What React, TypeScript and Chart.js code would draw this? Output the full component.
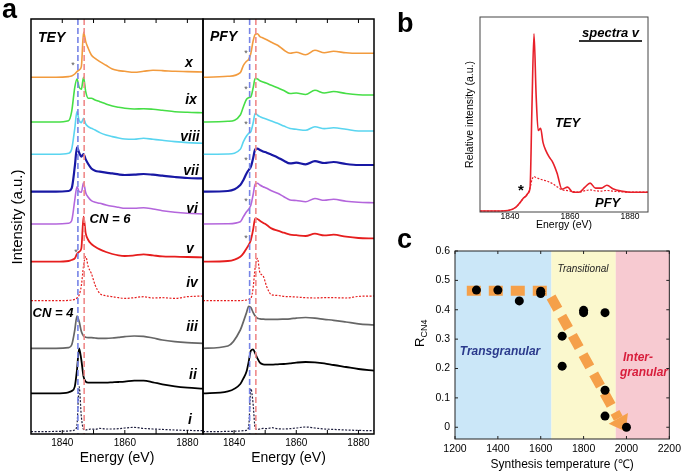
import React, { useEffect, useRef } from 'react';
import { Chart, registerables } from 'chart.js';

Chart.register(...registerables);
const FONT = '"Liberation Sans", Arial, Helvetica, sans-serif';
Chart.defaults.font.family = FONT;
Chart.defaults.color = '#000';

// ---------------- Panel a: S K-edge spectra ----------------
const energyGrid = [1830, 1838, 1842, 1843, 1844, 1844.7, 1845.4, 1846.1, 1846.8, 1847.5, 1848.3, 1849.3, 1850.5, 1852, 1854, 1856, 1858, 1860, 1863, 1866, 1869, 1872, 1876, 1880, 1885];
const spectrumLabels = ['x', 'ix', 'viii', 'vii', 'vi', 'v', 'iv', 'iii', 'ii', 'i'];
const spectrumOffsets = [35.67, 31.2, 27.97, 24.23, 21.0, 17.23, 13.33, 8.57, 4.07, 0.23];

const teyX = [0, 0, 0.07, 0.13, 0.33, 0.57, 0.73, 1.07, 4.5, 3.57, 2.9, 2.23, 1.9, 1.57, 1.2, 0.83, 0.67, 0.6, 0.5, 0.6, 0.7, 0.67, 0.6, 0.57, 0.53];
const teyIX = [0, 0, 0.13, 1.03, 3.47, 4.3, 3.47, 3.27, 4.47, 3.03, 2.37, 2.37, 2.2, 2.03, 1.8, 1.6, 1.47, 1.37, 1.3, 1.33, 1.27, 1.17, 1.03, 0.97, 0.93];
const teyVIII = [0, 0, 0.1, 0.5, 2.6, 4.27, 3.37, 3.17, 3.6, 3.03, 2.77, 2.6, 2.43, 2.17, 1.93, 1.77, 1.63, 1.53, 1.5, 1.6, 1.5, 1.4, 1.27, 1.17, 1.1];
const teyVII = [0, 0, 0.07, 0.33, 2.5, 4.43, 3.9, 3.5, 3.77, 3.23, 2.77, 2.33, 2.1, 2.0, 1.9, 1.83, 1.73, 1.67, 1.7, 1.77, 1.7, 1.6, 1.47, 1.37, 1.33];
const teyVI = [0, 0, 0.07, 0.33, 2.4, 3.73, 3.23, 3.17, 4.13, 3.13, 2.67, 2.33, 2.17, 2.07, 1.9, 1.77, 1.67, 1.57, 1.57, 1.63, 1.5, 1.33, 1.17, 1.07, 1.0];
const teyV = [0, 0, 0.07, 0.17, 0.33, 0.77, 1.0, 1.33, 4.5, 2.83, 2.17, 1.77, 1.5, 1.23, 0.97, 0.77, 0.63, 0.57, 0.63, 0.73, 0.63, 0.53, 0.5, 0.47, 0.43];
const teyIV = [0, 0, 0.03, 0.07, 0.13, 0.27, 0.57, 1.5, 3.5, 4.4, 3.4, 2.73, 1.57, 0.73, 0.5, 0.4, 0.3, 0.23, 0.3, 0.4, 0.27, 0.3, 0.23, 0.4, 0.47];
const teyIII = [0, 0, 0.07, 0.33, 1.83, 3.23, 2.67, 1.67, 1.23, 1.1, 1.07, 1.07, 1.03, 1.0, 1.0, 1.03, 1.1, 1.17, 1.23, 1.2, 1.03, 0.83, 0.67, 0.57, 0.5];
const teyII = [0, 0, 0.1, 0.23, 0.67, 2.33, 4.5, 3.33, 1.67, 1.17, 1.07, 1.07, 1.07, 1.07, 1.07, 1.1, 1.13, 1.17, 1.27, 1.27, 1.1, 0.9, 0.7, 0.57, 0.47];
const teyI = [0, 0.03, 0.07, 0.1, 0.17, 0.67, 4.5, 1.5, 0.23, 0.17, 0.23, 0.27, 0.23, 0.33, 0.27, 0.27, 0.3, 0.37, 0.43, 0.33, 0.27, 0.23, 0.17, 0.13, 0.1];

const pfyX = [0, 0.1, 0.47, 1.2, 1.6, 1.8, 2.4, 3.6, 4.3, 4.35, 4.07, 3.93, 3.75, 3.5, 3.2, 2.73, 2.4, 2.5, 2.25, 2.7, 2.45, 2.6, 2.45, 2.4, 2.4];
const pfyIX = [0, 0.07, 0.7, 1.53, 2.27, 2.43, 2.53, 3.37, 4.37, 4.3, 4.13, 4.0, 3.87, 3.67, 3.43, 3.15, 2.85, 2.9, 2.75, 3.17, 2.9, 3.05, 2.85, 2.73, 2.7];
const pfyVIII = [0, 0.03, 0.5, 1.27, 1.83, 2.1, 2.27, 3.1, 4.1, 3.93, 3.77, 3.63, 3.5, 3.33, 3.1, 2.83, 2.57, 2.5, 2.4, 2.75, 2.57, 2.65, 2.5, 2.33, 2.33];
const pfyVII = [0, 0.07, 0.67, 1.17, 1.83, 2.17, 2.5, 3.33, 4.23, 4.3, 4.17, 4.03, 3.9, 3.7, 3.43, 3.1, 2.83, 2.9, 2.73, 3.05, 2.87, 2.97, 2.77, 2.67, 2.67];
const pfyVI = [0, 0.03, 0.23, 0.73, 1.23, 1.47, 1.9, 2.9, 4.0, 4.07, 3.9, 3.73, 3.57, 3.33, 3.07, 2.73, 2.4, 2.35, 2.23, 2.55, 2.37, 2.47, 2.27, 2.17, 2.13];
const pfyV = [0, 0.07, 0.5, 0.83, 1.33, 1.67, 2.17, 3.17, 4.33, 4.27, 4.1, 3.9, 3.67, 3.33, 3.1, 2.9, 2.7, 2.65, 2.57, 2.8, 2.63, 2.7, 2.5, 2.37, 2.33];
const pfyIV = [0, 0, 0, 0.03, 0.07, 0.13, 0.23, 1.23, 3.4, 4.23, 2.8, 2.5, 1.4, 0.6, 0.53, 0.43, 0.4, 0.37, 0.3, 0.27, 0.3, 0.3, 0.27, 0.43, 0.47];
const pfyIII = [0, 0.23, 1.83, 2.67, 3.57, 4.2, 4.07, 3.6, 3.23, 3.0, 2.95, 2.92, 2.9, 2.9, 2.9, 2.92, 2.95, 3.02, 3.08, 3.02, 2.9, 2.8, 2.63, 2.45, 2.33];
const pfyII = [0, 0.2, 0.93, 1.5, 2.17, 3.17, 4.27, 4.4, 4.0, 3.5, 3.07, 2.9, 2.87, 2.87, 2.9, 2.93, 3.0, 3.07, 3.13, 3.1, 3.0, 2.83, 2.63, 2.43, 2.27];
const pfyI = [0, 0.03, 0.07, 0.1, 0.13, 0.5, 4.3, 2.83, 0.33, 0.23, 0.27, 0.33, 0.3, 0.4, 0.3, 0.27, 0.3, 0.37, 0.47, 0.37, 0.27, 0.23, 0.17, 0.13, 0.1];

const teySpectra = [teyX, teyIX, teyVIII, teyVII, teyVI, teyV, teyIV, teyIII, teyII, teyI];
const pfySpectra = [pfyX, pfyIX, pfyVIII, pfyVII, pfyVI, pfyV, pfyIV, pfyIII, pfyII, pfyI];

const spectrumColors = ['#f29b3e', '#46de46', '#5ad5f0', '#1818a4', '#b466dc', '#e61e1e', '#e61e1e', '#666666', '#000000', '#1c1c3c'];
const spectrumWidths = [1.6, 1.6, 1.6, 2.2, 1.6, 1.8, 1.2, 1.7, 1.8, 1.2];
const spectrumDotted = [false, false, false, false, false, false, true, false, false, true];

const energyTickLabels = [1840, 1860, 1880];
const energyMinorTicks = [1840, 1850, 1860, 1870, 1880];
const edgeLines = [1845, 1847]; // CN = 4 and CN = 6 edge positions
const edgeLineColors = ['#7784e6', '#f08a8a'];

// ---------------- Panel b: spectra v ----------------
const bEnergy = [1830, 1836, 1840, 1842, 1843.5, 1844.5, 1845.3, 1846, 1846.7, 1847.3, 1848, 1848.7, 1849.4, 1850.2, 1851, 1852, 1853, 1854.3, 1855.7, 1857.3, 1859.2, 1861, 1863, 1865, 1866.7, 1868.5, 1870.5, 1872.3, 1874.5, 1877, 1880, 1886];
const bTey = [0, 0, 0.005, 0.02, 0.046, 0.067, 0.077, 0.092, 0.123, 0.523, 0.913, 0.6, 0.415, 0.426, 0.354, 0.31, 0.28, 0.25, 0.195, 0.113, 0.123, 0.097, 0.097, 0.123, 0.144, 0.118, 0.118, 0.133, 0.113, 0.103, 0.097, 0.097];
const bPfy = [0, 0, 0.005, 0.02, 0.046, 0.067, 0.077, 0.092, 0.12, 0.16, 0.178, 0.172, 0.168, 0.164, 0.16, 0.156, 0.15, 0.14, 0.125, 0.11, 0.105, 0.1, 0.097, 0.105, 0.109, 0.104, 0.103, 0.106, 0.102, 0.099, 0.097, 0.097];

// ---------------- Panel c: R_CN4 vs synthesis temperature ----------------
const synthTemps = [1300, 1400, 1500, 1600, 1600, 1700, 1700, 1800, 1800, 1900, 1900, 1900, 2000];
const rCN4 = [0.467, 0.467, 0.43, 0.463, 0.455, 0.31, 0.208, 0.398, 0.39, 0.39, 0.126, 0.038, 0];
const trendTemps = [1255, 1632, 1962];
const trendR = [0.465, 0.465, 0.03];
const regimeBounds = [1200, 1650, 1950, 2200];
const regimeColors = ['#cbe7f8', '#fbf8cd', '#f7cad1'];
const tempTicks = [1200, 1400, 1600, 1800, 2000, 2200];
const rTicks = [0, 0.1, 0.2, 0.3, 0.4, 0.5, 0.6];

// ---------------- helpers ----------------
type TextItem = { t: string; x: number; y: number; size: number; bold?: boolean; it?: boolean; c?: string; al?: CanvasTextAlign; bl?: CanvasTextBaseline; rot?: number };

function textPlugin(items: TextItem[]) {
  return {
    id: 'texts',
    afterDraw(chart: any) {
      const ctx = chart.ctx as CanvasRenderingContext2D;
      items.forEach((it) => {
        ctx.save();
        ctx.font = `${it.it ? 'italic ' : ''}${it.bold ? 'bold ' : ''}${it.size}px ${FONT}`;
        ctx.fillStyle = it.c ?? '#000';
        ctx.textAlign = it.al ?? 'left';
        ctx.textBaseline = it.bl ?? 'middle';
        ctx.translate(it.x, it.y);
        if (it.rot) ctx.rotate(it.rot);
        ctx.fillText(it.t, 0, 0);
        ctx.restore();
      });
    },
  };
}

function framePlugin(o: { lw: number; color: string; xTicks?: number[]; yTicks?: number[]; tickLen?: number; refs?: boolean }) {
  return {
    id: 'frame',
    afterDatasetsDraw(chart: any) {
      const { ctx, chartArea: a, scales } = chart;
      ctx.save();
      if (o.refs) {
        ctx.lineWidth = 1.6;
        ctx.setLineDash([6, 3]);
        edgeLines.forEach((v, i) => {
          const px = scales.x.getPixelForValue(v);
          ctx.strokeStyle = edgeLineColors[i];
          ctx.beginPath();
          ctx.moveTo(px, a.top);
          ctx.lineTo(px, a.bottom);
          ctx.stroke();
        });
        ctx.setLineDash([]);
      }
      ctx.strokeStyle = o.color;
      ctx.lineWidth = o.lw;
      ctx.strokeRect(a.left, a.top, a.right - a.left, a.bottom - a.top);
      ctx.lineWidth = 1;
      const tl = o.tickLen ?? 4;
      (o.xTicks || []).forEach((v) => {
        const px = scales.x.getPixelForValue(v);
        ctx.beginPath();
        ctx.moveTo(px, a.top);
        ctx.lineTo(px, a.top + tl);
        ctx.moveTo(px, a.bottom);
        ctx.lineTo(px, a.bottom - tl);
        ctx.stroke();
      });
      (o.yTicks || []).forEach((v) => {
        const py = scales.y.getPixelForValue(v);
        ctx.beginPath();
        ctx.moveTo(a.left, py);
        ctx.lineTo(a.left + tl, py);
        ctx.moveTo(a.right, py);
        ctx.lineTo(a.right - tl, py);
        ctx.stroke();
      });
      ctx.restore();
    },
  };
}

function spectraConfig(spectra: number[][], pad: { left: number; right: number }, texts: TextItem[]): any {
  return {
    type: 'line',
    data: {
      datasets: spectra.map((vals, i) => ({
        label: spectrumLabels[i],
        data: energyGrid.map((e, j) => ({ x: e, y: spectrumOffsets[i] + vals[j] })),
        borderColor: spectrumColors[i],
        borderWidth: spectrumWidths[i],
        borderDash: spectrumDotted[i] ? [2, 1.5] : [],
        pointRadius: 0,
        cubicInterpolationMode: 'monotone',
        fill: false,
      })),
    },
    options: {
      responsive: false,
      animation: false,
      devicePixelRatio: 1,
      layout: { padding: { top: 19, left: pad.left, right: pad.right, bottom: 0 } },
      plugins: { legend: { display: false }, tooltip: { enabled: false } },
      scales: {
        x: {
          type: 'linear',
          min: 1830,
          max: 1885,
          grid: { display: false, drawTicks: false },
          border: { display: false },
          ticks: { font: { size: 10 }, color: '#000', padding: 3, maxRotation: 0, callback: (v: number) => String(v) },
          afterBuildTicks: (s: any) => { s.ticks = energyTickLabels.map((v) => ({ value: v })); },
          afterFit: (s: any) => { s.height = 39; },
          title: { display: true, text: 'Energy (eV)', font: { size: 14 }, color: '#000', padding: { top: 0, bottom: 6 } },
        },
        y: { display: false, min: 0, max: 41.5 },
      },
    },
    plugins: [framePlugin({ lw: 1.5, color: '#000', xTicks: energyMinorTicks, tickLen: 4, refs: true }), textPlugin(texts)],
  };
}

const numeralPos: [number, number][] = [[189, 63], [191, 100], [190, 137], [191, 171], [192, 209], [190, 249], [192, 283], [192, 327], [193, 375], [190, 420]];

function buildTey() {
  const texts: TextItem[] = [
    { t: 'a', x: 2, y: 18, size: 27, bold: true, bl: 'alphabetic' },
    { t: 'Intensity (a.u.)', x: 18, y: 217, size: 15, al: 'center', rot: -Math.PI / 2 },
    { t: 'TEY', x: 38, y: 38, size: 14, bold: true, it: true },
    { t: 'CN = 6', x: 110, y: 219, size: 13, bold: true, it: true, al: 'center' },
    { t: 'CN = 4', x: 53, y: 313, size: 13, bold: true, it: true, al: 'center' },
    { t: '*', x: 73, y: 66, size: 9, c: '#555', al: 'center' },
    { t: '*', x: 76, y: 253, size: 9, c: '#555', al: 'center' },
    ...spectrumLabels.map((l, i) => ({ t: l, x: numeralPos[i][0], y: numeralPos[i][1], size: 14, bold: true, it: true, al: 'center' as CanvasTextAlign })),
  ];
  return spectraConfig(teySpectra, { left: 31, right: 12 }, texts);
}

function buildPfy() {
  const starY = [52, 88, 123, 159, 200, 237];
  const texts: TextItem[] = [
    { t: 'PFY', x: 20, y: 37, size: 14, bold: true, it: true },
    ...starY.map((y) => ({ t: '*', x: 56, y: y + 2, size: 9, c: '#555', al: 'center' as CanvasTextAlign })),
  ];
  return spectraConfig(pfySpectra, { left: 13, right: 11 }, texts);
}

function buildB(): any {
  const texts: TextItem[] = [
    { t: 'b', x: 2, y: 32, size: 27, bold: true, bl: 'alphabetic' },
    { t: 'spectra v', x: 187, y: 33, size: 13, bold: true, it: true },
    { t: 'TEY', x: 160, y: 123, size: 13, bold: true, it: true },
    { t: 'PFY', x: 200, y: 203, size: 13, bold: true, it: true },
    { t: '*', x: 126, y: 191, size: 15, bold: true, al: 'center' },
  ];
  const underline = {
    id: 'underline',
    afterDraw(chart: any) {
      const ctx = chart.ctx;
      ctx.save();
      ctx.strokeStyle = '#333';
      ctx.lineWidth = 2;
      ctx.beginPath();
      ctx.moveTo(184, 41);
      ctx.lineTo(247, 41);
      ctx.stroke();
      ctx.restore();
    },
  };
  return {
    type: 'line',
    data: {
      datasets: [
        { label: 'TEY', data: bEnergy.map((e, j) => ({ x: e, y: bTey[j] })), borderColor: '#e8202a', borderWidth: 1.6, pointRadius: 0, cubicInterpolationMode: 'monotone' },
        { label: 'PFY', data: bEnergy.map((e, j) => ({ x: e, y: bPfy[j] })), borderColor: '#e8202a', borderWidth: 1.2, borderDash: [2, 1.5], pointRadius: 0, cubicInterpolationMode: 'monotone' },
      ],
    },
    options: {
      responsive: false,
      animation: false,
      devicePixelRatio: 1,
      layout: { padding: { top: 17, left: 65, right: 37, bottom: 0 } },
      plugins: { legend: { display: false }, tooltip: { enabled: false } },
      scales: {
        x: {
          type: 'linear', min: 1830, max: 1886,
          grid: { display: false, drawTicks: false }, border: { display: false },
          ticks: { font: { size: 8.5 }, color: '#000', padding: 0, maxRotation: 0, callback: (v: number) => String(v) },
          afterBuildTicks: (s: any) => { s.ticks = energyTickLabels.map((v) => ({ value: v })); },
          afterFit: (s: any) => { s.height = 28; },
          title: { display: true, text: 'Energy (eV)', font: { size: 10.5 }, color: '#000', padding: { top: 0, bottom: 9 } },
        },
        y: {
          min: -0.005, max: 1,
          grid: { display: false, drawTicks: false }, border: { display: false },
          ticks: { display: false },
          afterFit: (s: any) => { s.width = 20; },
          title: { display: true, text: 'Relative intensity (a.u.)', font: { size: 10.5 }, color: '#000', padding: { top: 4, bottom: 0 } },
        },
      },
    },
    plugins: [framePlugin({ lw: 1, color: '#444' }), textPlugin(texts), underline],
  };
}

function buildC(): any {
  const texts: TextItem[] = [
    { t: 'c', x: 2, y: 28, size: 27, bold: true, bl: 'alphabetic' },
    { t: 'Transitional', x: 188, y: 49, size: 10, it: true, c: '#222', al: 'center' },
    { t: 'Transgranular', x: 105, y: 132, size: 12, bold: true, it: true, c: '#2b3a8c', al: 'center' },
    { t: 'Inter-', x: 228, y: 138, size: 12, bold: true, it: true, c: '#d81e3c' },
    { t: 'granular', x: 225, y: 153, size: 12, bold: true, it: true, c: '#d81e3c' },
  ];
  const regimes = {
    id: 'regimes',
    beforeDatasetsDraw(chart: any) {
      const { ctx, chartArea: a, scales: { x } } = chart;
      ctx.save();
      regimeColors.forEach((col, i) => {
        const x0 = x.getPixelForValue(regimeBounds[i]);
        const x1 = x.getPixelForValue(regimeBounds[i + 1]);
        ctx.fillStyle = col;
        ctx.fillRect(x0, a.top, x1 - x0, a.bottom - a.top);
      });
      ctx.restore();
    },
    afterDatasetDraw(chart: any, args: any) {
      if (args.index !== 1) return;
      const pts = chart.getDatasetMeta(1).data;
      const p1 = pts[pts.length - 2];
      const p2 = pts[pts.length - 1];
      const dx = p2.x - p1.x, dy = p2.y - p1.y;
      const len = Math.hypot(dx, dy);
      const ux = dx / len, uy = dy / len;
      const ctx = chart.ctx;
      ctx.save();
      ctx.fillStyle = '#f5a04a';
      ctx.beginPath();
      ctx.moveTo(p2.x + ux * 15, p2.y + uy * 15);
      ctx.lineTo(p2.x - uy * 11, p2.y + ux * 11);
      ctx.lineTo(p2.x + uy * 11, p2.y - ux * 11);
      ctx.closePath();
      ctx.fill();
      ctx.restore();
    },
  };
  const rLabel = {
    id: 'rLabel',
    afterDraw(chart: any) {
      const ctx = chart.ctx;
      ctx.save();
      ctx.translate(29, 127);
      ctx.rotate(-Math.PI / 2);
      ctx.fillStyle = '#000';
      ctx.textBaseline = 'alphabetic';
      ctx.font = `13px ${FONT}`;
      ctx.fillText('R', 0, 0);
      const w = ctx.measureText('R').width;
      ctx.font = `9px ${FONT}`;
      ctx.fillText('CN4', w, 3);
      ctx.restore();
    },
  };
  return {
    type: 'scatter',
    data: {
      datasets: [
        { label: 'R_CN4', data: synthTemps.map((t, j) => ({ x: t, y: rCN4[j] })), backgroundColor: '#000', borderWidth: 0, pointRadius: 4.5 },
        {
          label: 'trend', type: 'line', data: trendTemps.map((t, j) => ({ x: t, y: trendR[j] })),
          borderColor: '#f5a04a', borderWidth: 10, borderDash: [14, 8], borderCapStyle: 'butt', pointRadius: 0, tension: 0, fill: false,
        },
      ],
    },
    options: {
      responsive: false,
      animation: false,
      devicePixelRatio: 1,
      layout: { padding: { top: 31, left: 0, right: 12, bottom: 0 } },
      plugins: { legend: { display: false }, tooltip: { enabled: false } },
      scales: {
        x: {
          type: 'linear', min: 1200, max: 2200,
          grid: { display: false, drawTicks: false }, border: { display: false },
          ticks: { font: { size: 10.5 }, color: '#000', padding: 4, maxRotation: 0, callback: (v: number) => String(v) },
          afterBuildTicks: (s: any) => { s.ticks = tempTicks.map((v) => ({ value: v })); },
          afterFit: (s: any) => { s.height = 34; },
          title: { display: true, text: 'Synthesis temperature (℃)', font: { size: 12 }, color: '#000', padding: { top: 0, bottom: 1 } },
        },
        y: {
          min: -0.04, max: 0.6,
          grid: { display: false, drawTicks: false }, border: { display: false },
          ticks: { font: { size: 10.5 }, color: '#000', padding: 5, callback: (v: number) => (v === 0 ? '0' : v.toFixed(1)) },
          afterBuildTicks: (s: any) => { s.ticks = rTicks.map((v) => ({ value: v })); },
          afterFit: (s: any) => { s.width = 60; },
        },
      },
    },
    plugins: [regimes, framePlugin({ lw: 1, color: '#222', xTicks: tempTicks, yTicks: rTicks, tickLen: 3 }), textPlugin(texts), rLabel],
  };
}

function ChartCanvas({ left, top, width, height, build }: { left: number; top: number; width: number; height: number; build: () => any }) {
  const ref = useRef<HTMLCanvasElement>(null);
  useEffect(() => {
    const chart = new Chart(ref.current as HTMLCanvasElement, build());
    return () => chart.destroy();
  }, []);
  return <canvas ref={ref} width={width} height={height} style={{ position: 'absolute', left, top, width, height }} />;
}

export default function App() {
  return (
    <div style={{ position: 'fixed', left: 0, top: 0, width: 685, height: 473, background: '#fff', overflow: 'hidden' }}>
      <ChartCanvas left={0} top={0} width={215} height={473} build={buildTey} />
      <ChartCanvas left={190} top={0} width={195} height={473} build={buildPfy} />
      <ChartCanvas left={395} top={0} width={290} height={240} build={buildB} />
      <ChartCanvas left={395} top={220} width={290} height={253} build={buildC} />
    </div>
  );
}
